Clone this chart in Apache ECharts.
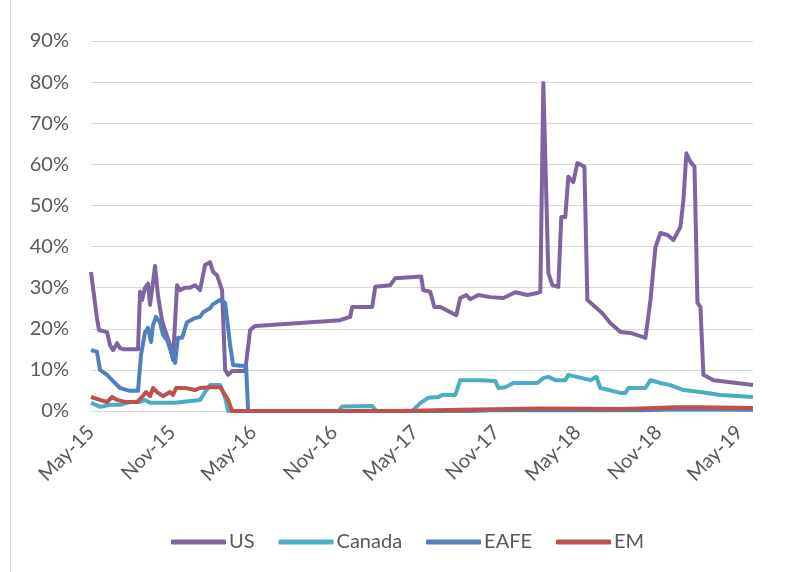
<!DOCTYPE html>
<html>
<head>
<meta charset="utf-8">
<script src="https://cdn.jsdelivr.net/npm/echarts@6/dist/echarts.min.js"></script>
<style>
  html, body { margin: 0; padding: 0; background: #fff; }
  #chart { width: 797px; height: 572px; }
</style>
</head>
<body>
<div id="chart"></div>
<script>
// x = months since May-15, y = percent
const tickLabels = ['May-15', 'Nov-15', 'May-16', 'Nov-16', 'May-17', 'Nov-17', 'May-18', 'Nov-18', 'May-19'];
const seriesNames = ['US', 'Canada', 'EAFE', 'EM'];

const us = [
  [0, 33.8], [0.44, 22.6], [0.59, 19.7], [1.19, 19.2], [1.41, 16], [1.63, 14.8], [1.93, 16.5], [2.15, 15.3],
  [2.44, 15], [3.48, 15], [3.63, 29], [3.78, 27], [4.0, 30], [4.22, 31], [4.37, 25.8], [4.59, 31.4],
  [4.74, 35.3], [4.96, 28], [5.26, 22], [5.48, 19.7], [5.85, 16], [6.07, 12.4], [6.37, 30.6], [6.59, 29.4],
  [6.96, 30], [7.33, 30], [7.70, 30.6], [8.07, 29.4], [8.44, 35.5], [8.81, 36.2], [9.04, 33.8], [9.33, 33],
  [9.70, 29.4], [9.93, 10], [10.15, 8.8], [10.44, 9.7], [11.41, 9.7], [11.78, 19.7], [12.15, 20.7],
  [15.48, 21.4], [18.44, 22.1], [19.19, 22.9], [19.33, 25.3], [20.81, 25.3], [21.04, 30.2], [22.15, 30.6],
  [22.52, 32.3], [24.44, 32.7], [24.59, 29.4], [25.11, 29], [25.41, 25.3], [25.85, 25.3], [27.04, 23.3],
  [27.33, 27.5], [27.78, 28.2], [28.07, 27.2], [28.67, 28.2], [29.56, 27.7], [30.52, 27.5], [31.41, 28.9],
  [32.30, 28.2], [33.04, 28.7], [33.26, 29], [33.48, 79.8], [33.85, 33.6], [34.15, 30.6], [34.59, 30.2],
  [34.81, 47.2], [35.11, 47.2], [35.33, 57], [35.70, 55.7], [36.0, 60.3], [36.52, 59.4], [36.74, 27],
  [37.33, 25.3], [37.85, 23.8], [38.44, 21.4], [39.19, 19.2], [39.93, 19], [41.04, 17.8], [41.41, 27],
  [41.78, 39.9], [42.15, 43.3], [42.67, 42.8], [43.11, 41.6], [43.63, 44.8], [43.85, 51.3], [44.07, 62.7],
  [44.37, 60.6], [44.67, 59.4], [44.89, 26.3], [45.11, 25.3], [45.33, 8.8], [46.07, 7.5], [47.33, 7], [49, 6.3]
];

const canada = [
  [0, 2], [0.67, 1], [1.41, 1.5], [2.15, 1.5], [2.89, 2.2], [3.63, 2.2], [4.0, 2.7], [4.37, 2],
  [6.22, 2], [8.07, 2.7], [8.44, 4.6], [8.81, 6.3], [9.56, 6.3], [9.93, 3.2], [10.15, 0], [18.3, 0],
  [18.59, 1.1], [20.81, 1.2], [21.11, 0], [23.78, 0], [24.37, 1.9], [24.96, 3.2], [25.70, 3.4], [26.0, 3.9],
  [26.96, 3.9], [27.33, 7.5], [28.81, 7.5], [29.93, 7.3], [30.15, 5.6], [30.67, 5.8], [31.26, 6.8],
  [33.04, 6.8], [33.48, 8], [33.85, 8.3], [34.37, 7.5], [35.11, 7.5], [35.33, 8.8], [36.96, 7.5],
  [37.41, 8.3], [37.70, 5.6], [39.19, 4.4], [39.56, 4.4], [39.78, 5.6], [41.04, 5.6], [41.41, 7.5],
  [42.15, 6.8], [42.89, 6.3], [43.85, 5.1], [45.11, 4.6], [46.59, 3.9], [49, 3.4]
];

const eafe = [
  [0, 14.8], [0.44, 14.4], [0.67, 10], [1.19, 8.8], [1.56, 7.5], [1.78, 6.8], [2.15, 5.6], [2.89, 4.9],
  [3.48, 4.9], [3.70, 13.6], [4.0, 19.2], [4.22, 20.2], [4.44, 16.8], [4.59, 20.9], [4.81, 22.9],
  [5.11, 21.6], [5.33, 18.5], [5.63, 17.3], [6.0, 13.6], [6.07, 14.3], [6.22, 11.7], [6.44, 17.8],
  [6.74, 17.8], [7.11, 21.6], [7.70, 22.6], [8.07, 22.9], [8.30, 24], [8.81, 25], [9.04, 26], [9.56, 27],
  [9.93, 26.3], [10.30, 16], [10.52, 11.2], [11.04, 11], [11.48, 11], [11.63, 0], [28.07, 0],
  [29.56, 0.2], [36.2, 0.2], [40.67, 0.2], [43.26, 0.4], [49, 0.3]
];

const em = [
  [0, 3.4], [0.67, 2.7], [1.19, 2.2], [1.56, 3.4], [1.93, 2.7], [2.52, 2.2], [3.41, 2.2], [3.78, 3.4],
  [4.07, 4.6], [4.37, 3.6], [4.59, 5.6], [4.89, 4.6], [5.33, 3.6], [5.85, 4.6], [6.07, 3.9], [6.30, 5.6],
  [6.96, 5.6], [7.70, 5.1], [8.07, 5.6], [8.81, 5.8], [9.56, 5.8], [9.93, 3.9], [10.15, 2.7], [10.44, 0],
  [22.89, 0], [27.33, 0.3], [31.04, 0.5], [33.26, 0.6], [39.19, 0.5], [40.67, 0.6], [43.26, 0.9],
  [45.11, 0.9], [49, 0.7]
];

const colors = ['#8064A2', '#4BACC6', '#4F81BD', '#C0504D'];
const seriesData = [us, canada, eafe, em];

let myChart = echarts.init(document.getElementById('chart'));
myChart.setOption({
  animation: false,
  color: colors,
  textStyle: { fontFamily: 'Lato' },
  grid: { left: 91, right: 44, top: 41, bottom: 161 },
  graphic: [
    { type: 'line', shape: { x1: 10.5, y1: 0, x2: 10.5, y2: 572 }, style: { stroke: '#D9D9D9', lineWidth: 1 } }
  ],
  xAxis: {
    type: 'value',
    min: 0,
    max: 49,
    interval: 6,
    axisLine: { show: true, lineStyle: { color: '#D9D9D9', width: 1 } },
    axisTick: { show: false },
    splitLine: { show: false },
    axisLabel: {
      rotate: 45,
      margin: 18,
      color: '#595959',
      fontSize: 20,
      fontFamily: 'Lato',
      showMaxLabel: false,
      formatter: function (v) {
        return v % 6 === 0 ? tickLabels[v / 6] : '';
      }
    }
  },
  yAxis: {
    type: 'value',
    min: 0,
    max: 90,
    interval: 10,
    axisLine: { show: false },
    axisTick: { show: false },
    splitLine: { lineStyle: { color: '#D9D9D9', width: 1 } },
    axisLabel: {
      margin: 22,
      color: '#595959',
      fontSize: 20,
      fontFamily: 'Lato',
      formatter: '{value}%'
    }
  },
  legend: {
    left: 166,
    top: 527,
    itemWidth: 55,
    itemHeight: 5,
    itemGap: 24,
    icon: 'roundRect',
    textStyle: { color: '#595959', fontSize: 20, fontFamily: 'Lato', padding: [0, 0, 0, -2] },
    data: seriesNames
  },
  series: seriesNames.map((name, i) => ({
    name: name,
    type: 'line',
    data: seriesData[i],
    showSymbol: false,
    symbol: 'none',
    lineStyle: { width: 4, color: colors[i], join: 'round' },
    itemStyle: { color: colors[i] }
  }))
});
</script>
</body>
</html>
